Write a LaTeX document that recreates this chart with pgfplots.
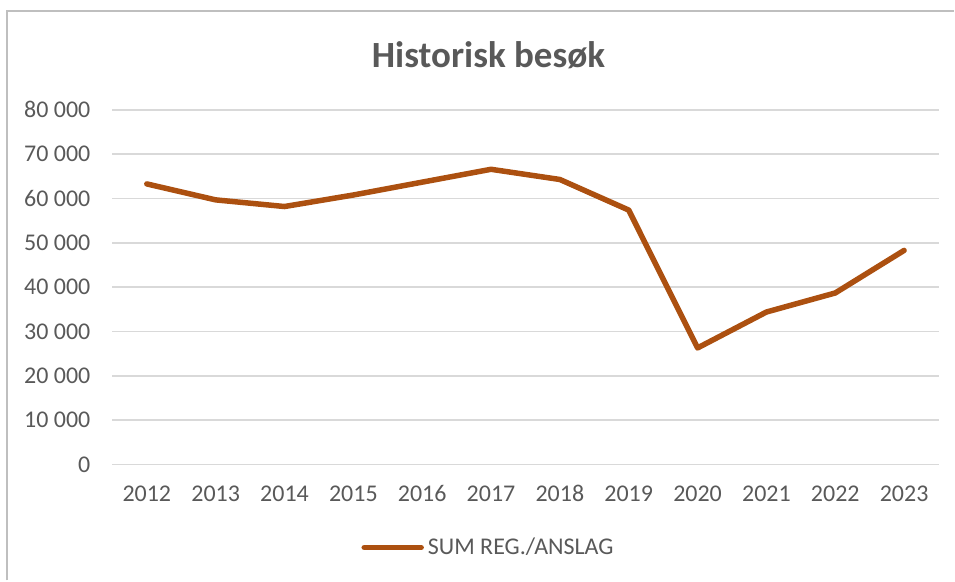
\documentclass[border=0pt]{standalone}
\usepackage{pgfplots}
\pgfplotsset{compat=1.18}
\usepackage{fontspec}
\setmainfont{Carlito}
\definecolor{linebrown}{RGB}{172,80,16}
\definecolor{txtgray}{RGB}{89,89,89}
\definecolor{gridgray}{RGB}{217,217,217}
\definecolor{framegray}{RGB}{191,191,191}
\begin{document}
\begin{tikzpicture}
\path (0,0) rectangle (477.5pt,290.5pt);
\draw[framegray, line width=1pt] (3.75pt,0) -- (3.75pt,285pt) -- (477.5pt,285pt);
\node[font=\fontsize{18.5}{22}\selectfont\bfseries, text=txtgray] at (244.5pt,263pt) {Historisk besøk};
\begin{axis}[
  at={(56.25pt,58pt)}, anchor=south west,
  scale only axis, width=413.5pt, height=177.5pt,
  xmin=-0.5, xmax=11.5, ymin=0, ymax=80000,
  xtick={0,...,11},
  xticklabels={2012,2013,2014,2015,2016,2017,2018,2019,2020,2021,2022,2023},
  ytick={0,10000,...,80000},
  scaled y ticks=false,
  /pgf/number format/assume math mode=true,
  /pgf/number format/1000 sep={\ },
  /pgf/number format/fixed,
  axis line style={draw=none},
  major tick length=0pt,
  ymajorgrids, grid style={gridgray, line width=0.75pt},
  tick label style={font=\fontsize{12}{14}\selectfont, text=txtgray},
  yticklabel style={xshift=-7.5pt},
  xticklabel style={yshift=-7pt},
  legend style={at={(0.4565,-0.234)}, anchor=center, draw=none, fill=none,
    font=\fontsize{12}{14}\selectfont, text=txtgray, inner sep=0pt,
    /tikz/every even column/.append style={column sep=0pt}},
  legend cell align=left,
  legend image code/.code={\draw[linebrown, line width=2.75pt] (0pt,0pt) -- (28.5pt,0pt);},
  clip=false,
]
\addplot[linebrown, line width=2.75pt, line join=round, line cap=round] coordinates {
(0,63300) (1,59700) (2,58200) (3,60800) (4,63700) (5,66600)
(6,64300) (7,57400) (8,26300) (9,34400) (10,38700) (11,48300)};
\addlegendentry{SUM REG./ANSLAG}
\end{axis}
\end{tikzpicture}
\end{document}
